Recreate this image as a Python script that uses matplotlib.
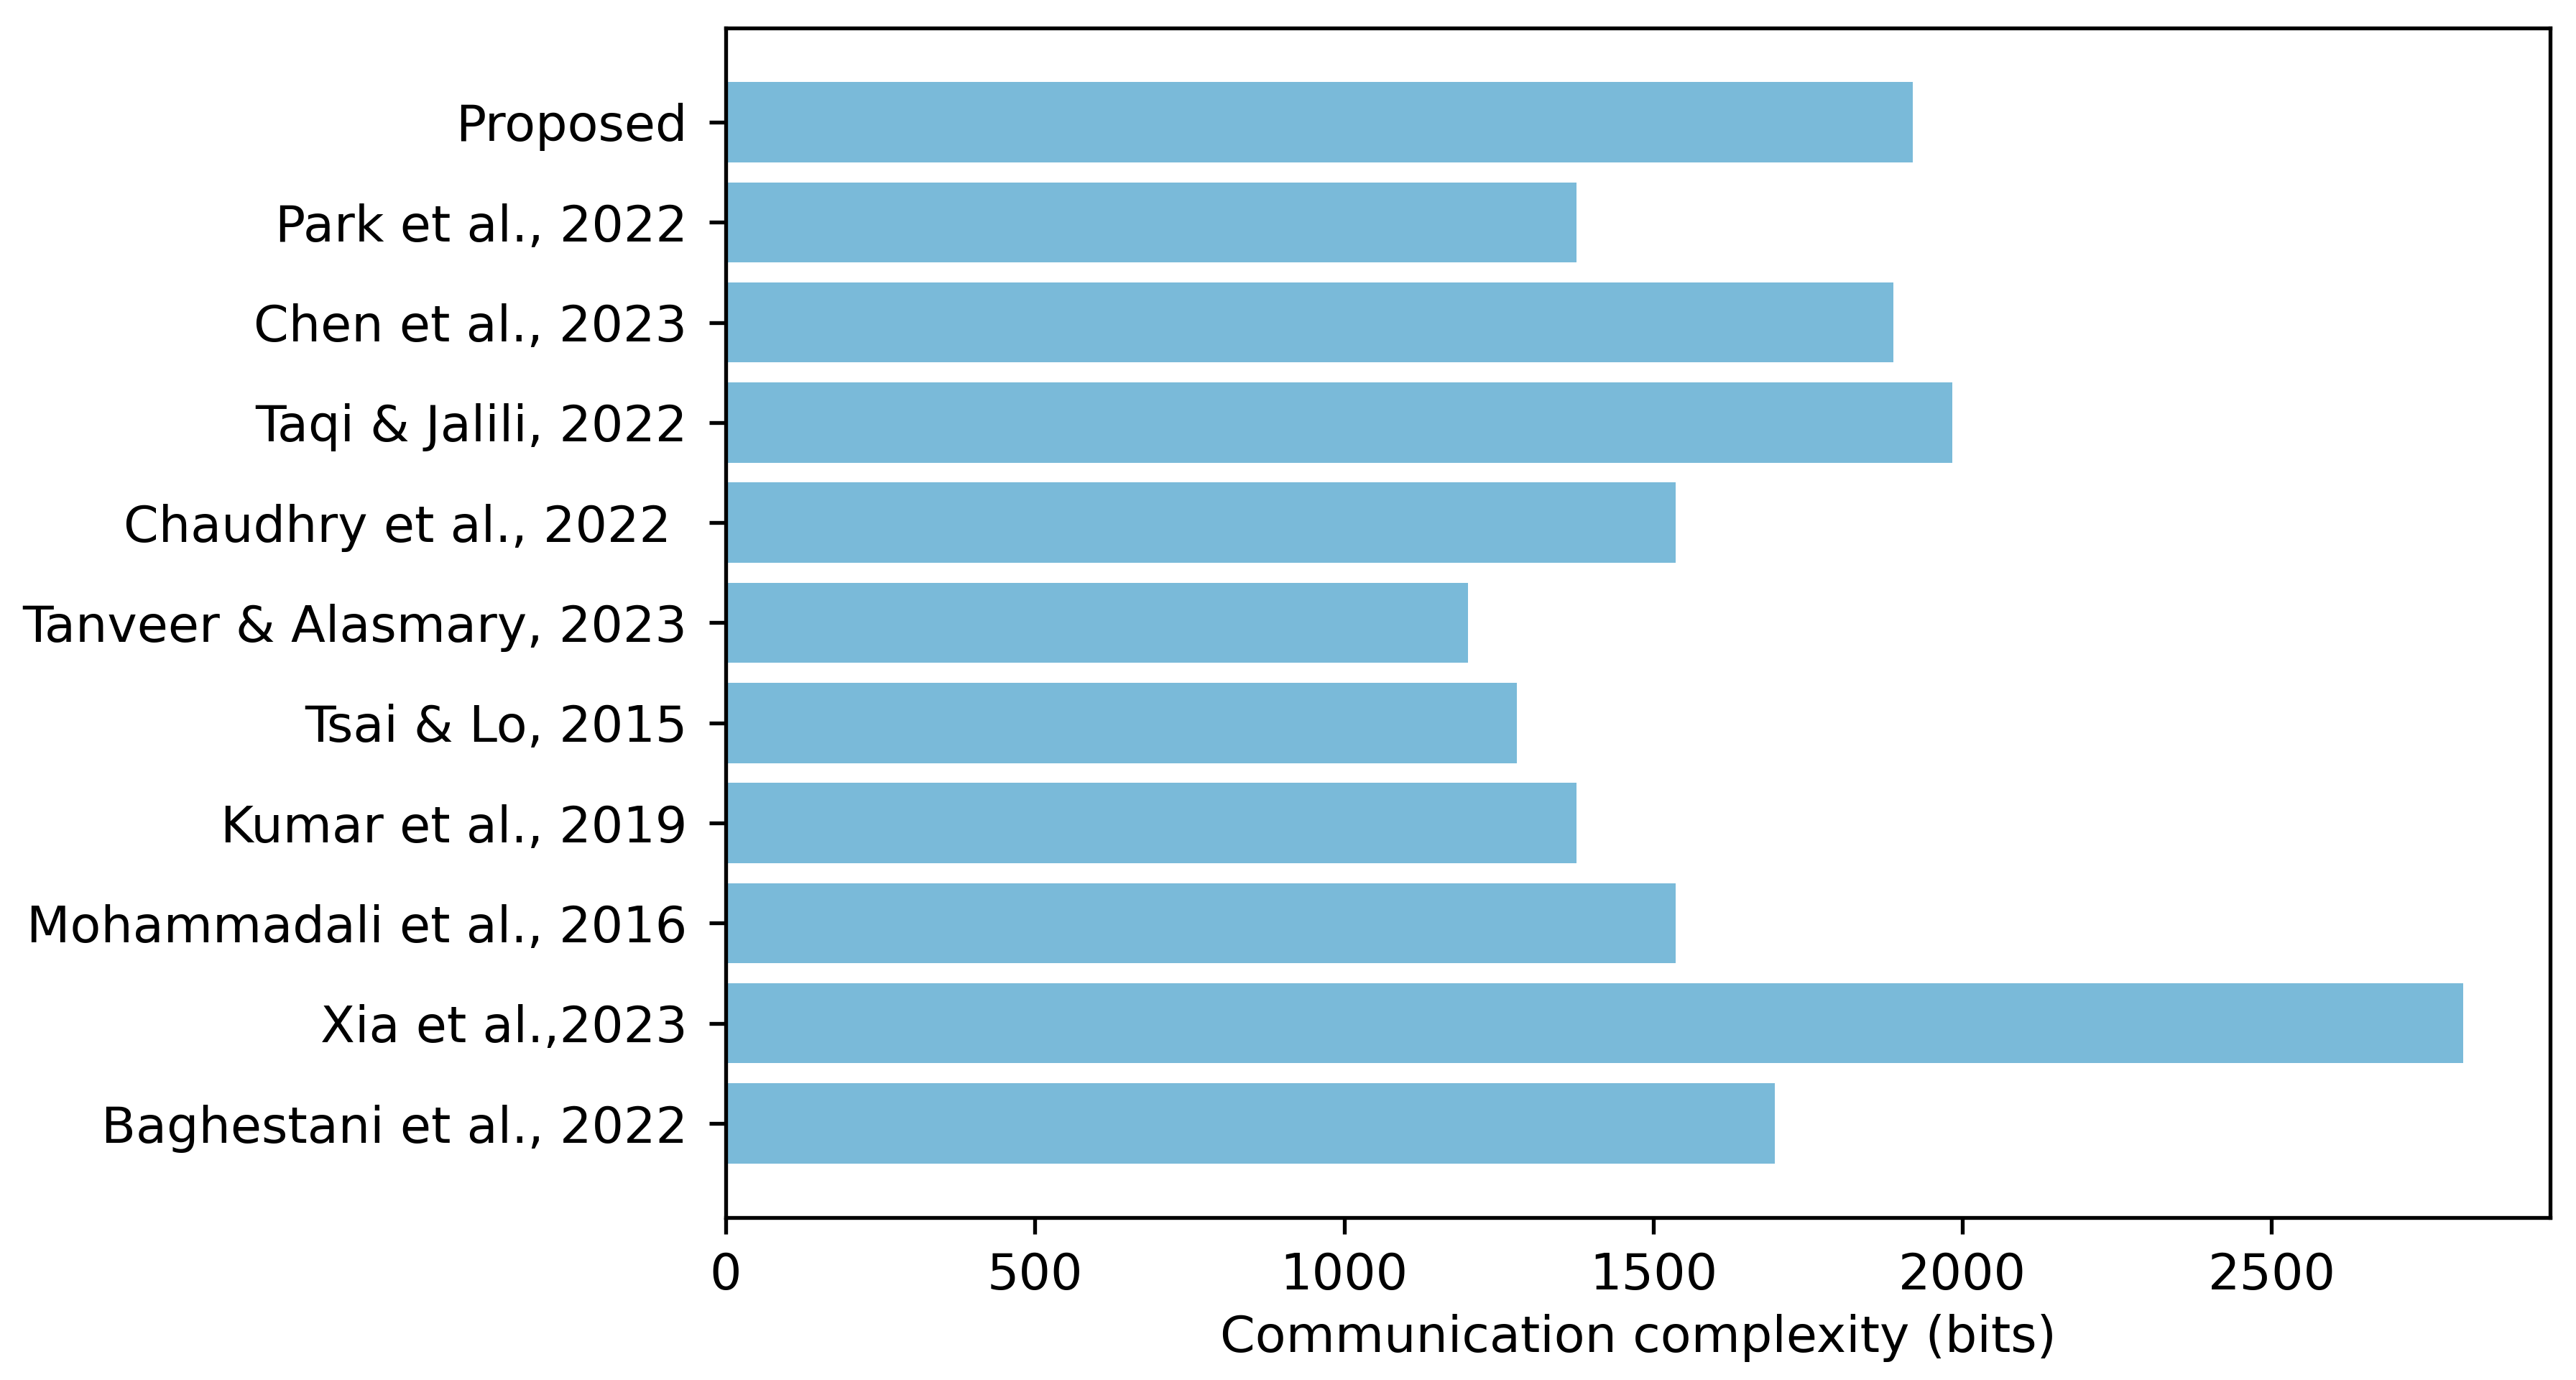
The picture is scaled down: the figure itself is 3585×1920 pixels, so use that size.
import matplotlib
matplotlib.use("Agg")
import matplotlib.pyplot as plt

# schemes, listed bottom to top as barh draws them
schemes = [
    "Baghestani et al., 2022",
    "Xia et al.,2023",
    "Mohammadali et al., 2016",
    "Kumar et al., 2019",
    "Tsai & Lo, 2015",
    "Tanveer & Alasmary, 2023",
    "Chaudhry et al., 2022 ",
    "Taqi & Jalili, 2022",
    "Chen et al., 2023",
    "Park et al., 2022",
    "Proposed",
]
comm_bits = [1696, 2810, 1536, 1376, 1280, 1200, 1536, 1984, 1888, 1376, 1920]

bar_color = "#7abad9"

plt.rcParams["font.size"] = 10.5

fig = plt.figure(figsize=(3585 / 480, 1920 / 480), dpi=480)
ax = fig.add_axes([0.2817, 0.1177, 0.7083, 0.862])

ax.barh(schemes, comm_bits, color=bar_color)
ax.tick_params(axis="y", pad=4.5)
ax.set_xlabel("Communication complexity (bits)", labelpad=3)

fig.savefig("out.png", dpi=480)
